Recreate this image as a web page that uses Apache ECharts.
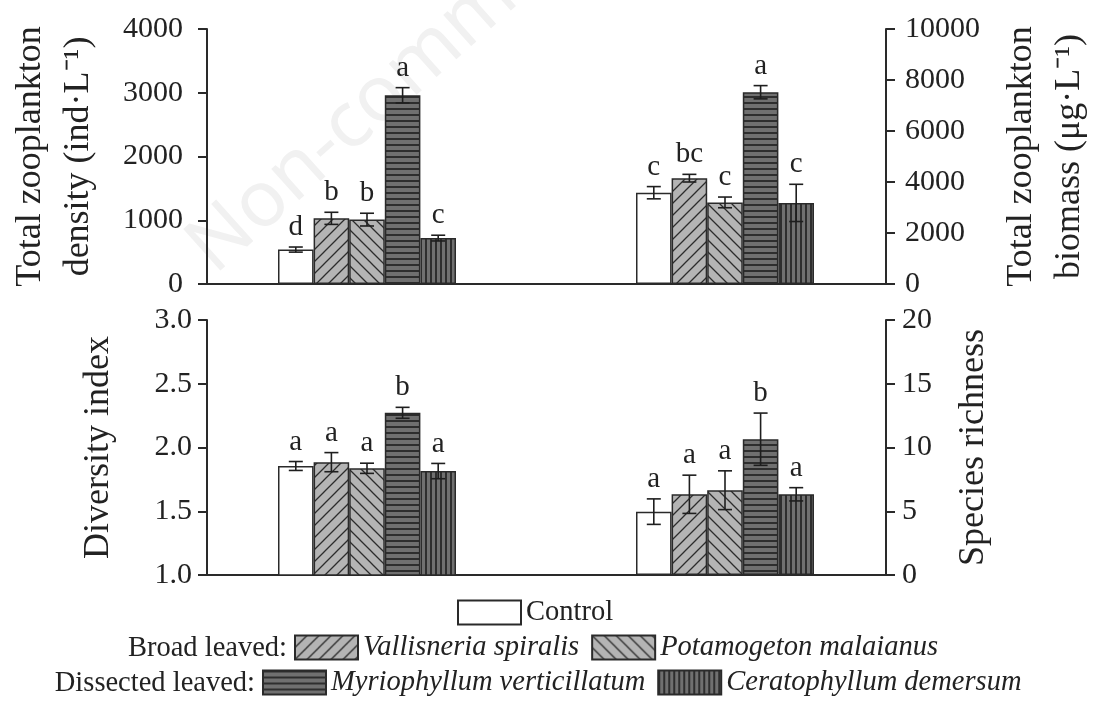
<!DOCTYPE html>
<html>
<head>
<meta charset="utf-8">
<script src="https://cdn.jsdelivr.net/npm/echarts@6/dist/echarts.min.js"></script>
<style>
  html, body { margin: 0; padding: 0; background: #ffffff; }
  #chart { width: 1094px; height: 704px; }
</style>
</head>
<body>
<div id="chart"></div>
<script>
// ---- data -------------------------------------------------------------
const treatments = [
  'Control',
  'Vallisneria spiralis',
  'Potamogeton malaianus',
  'Myriophyllum verticillatum',
  'Ceratophyllum demersum'
];

// Total zooplankton density (ind·L-1), mean and SE
const densityMean = [540, 1030, 1010, 2960, 720];
const densityErr = [40, 95, 100, 120, 45];
const densityLetters = ['d', 'b', 'b', 'a', 'c'];

// Total zooplankton biomass (μg·L-1), mean and SE
const biomassMean = [3580, 4150, 3200, 7520, 3180];
const biomassErr = [240, 150, 210, 260, 730];
const biomassLetters = ['c', 'bc', 'c', 'a', 'c'];

// Diversity index, mean and SE
const diversityMean = [1.855, 1.885, 1.837, 2.272, 1.815];
const diversityErr = [0.035, 0.075, 0.040, 0.043, 0.060];
const diversityLetters = ['a', 'a', 'a', 'b', 'a'];

// Species richness, mean and SE
const richnessMean = [4.97, 6.33, 6.65, 10.65, 6.33];
const richnessErr = [1.00, 1.50, 1.52, 2.05, 0.52];
const richnessLetters = ['a', 'a', 'a', 'b', 'a'];

// axis ranges
const densityRange = { min: 0, max: 4000, interval: 1000 };
const biomassRange = { min: 0, max: 10000, interval: 2000 };
const diversityRange = { min: 1.0, max: 3.0, interval: 0.5 };
const richnessRange = { min: 0, max: 20, interval: 5 };

const groupNames = ['left group', 'right group'];

// ---- styling ----------------------------------------------------------
const FONT = '"Liberation Serif", "Times New Roman", serif';
const INK = '#222222';
const BAR_W = 35.6;

function makeTile(w, h, bg, draw) {
  const c = document.createElement('canvas');
  c.width = w; c.height = h;
  const g = c.getContext('2d');
  g.fillStyle = bg;
  g.fillRect(0, 0, w, h);
  draw(g, w, h);
  return c;
}
function diagonal(up) {
  return makeTile(12, 12, '#b4b4b4', (g, w, h) => {
    g.strokeStyle = '#2c2c2c';
    g.lineWidth = 1.3;
    g.beginPath();
    if (up) {
      g.moveTo(0, h); g.lineTo(w, 0);
      g.moveTo(-2, 2); g.lineTo(2, -2);
      g.moveTo(w - 2, h + 2); g.lineTo(w + 2, h - 2);
    } else {
      g.moveTo(0, 0); g.lineTo(w, h);
      g.moveTo(-2, h - 2); g.lineTo(2, h + 2);
      g.moveTo(w - 2, -2); g.lineTo(w + 2, 2);
    }
    g.stroke();
  });
}
const fills = [
  '#ffffff',
  { image: diagonal(true), repeat: 'repeat' },
  { image: diagonal(false), repeat: 'repeat' },
  { image: makeTile(6, 6, '#707070', (g, w) => { g.fillStyle = '#2e2e2e'; g.fillRect(0, 0, w, 2); }), repeat: 'repeat' },
  { image: makeTile(5, 5, '#707070', (g, w, h) => { g.fillStyle = '#2e2e2e'; g.fillRect(0, 0, 2, h); }), repeat: 'repeat' }
];

// ---- layout helpers -----------------------------------------------------
const panels = [
  { top: 29, height: 255 },
  { top: 320, height: 255 }
];

const grids = [];
const xAxes = [];
const yAxes = [];
const series = [];

function axisLineStyle() {
  return { show: true, lineStyle: { color: '#2a2a2a', width: 2 } };
}
function visibleY(m, position) {
  return Object.assign({}, m.range, {
    type: 'value',
    position: position,
    name: m.name,
    nameLocation: 'middle',
    nameRotate: 90,
    nameGap: m.nameGap,
    nameTextStyle: { fontFamily: FONT, fontSize: 36, color: INK, lineHeight: 48 },
    axisLine: axisLineStyle(),
    axisTick: { show: true, inside: false, length: 9, lineStyle: { color: '#2a2a2a', width: 2 } },
    axisLabel: {
      fontFamily: FONT, fontSize: 30, color: INK, margin: m.labelMargin,
      formatter: m.fmt || (v => String(v))
    },
    splitLine: { show: false }
  });
}
function hiddenY(range) {
  return Object.assign({}, range, { type: 'value', show: false, splitLine: { show: false } });
}

function addPanel(p, left, right) {
  // frame grid carrying the visible axes
  const gFrame = grids.length;
  grids.push({ left: 207, width: 679, top: p.top, height: p.height, outerBoundsMode: 'none', containLabel: false });
  // bar grid, slightly wider so the two groups sit where they belong
  const gBars = grids.length;
  grids.push({ left: 188, width: 716, top: p.top, height: p.height, outerBoundsMode: 'none', containLabel: false });

  xAxes.push({
    gridIndex: gFrame, type: 'value', min: 0, max: 1,
    axisLine: axisLineStyle(), axisTick: { show: false }, axisLabel: { show: false },
    splitLine: { show: false }
  });
  yAxes.push(Object.assign(visibleY(left, 'left'), { gridIndex: gFrame }));
  yAxes.push(Object.assign(visibleY(right, 'right'), { gridIndex: gFrame }));

  [left, right].forEach((m, side) => {
    const xi = xAxes.length;
    xAxes.push({ gridIndex: gBars, type: 'category', data: groupNames, show: false });
    const yi = yAxes.length;
    yAxes.push(Object.assign(hiddenY(m.range), { gridIndex: gBars }));

    treatments.forEach((t, i) => {
      const data = side === 0 ? [m.mean[i], '-'] : ['-', m.mean[i]];
      series.push({
        type: 'bar', name: t, xAxisIndex: xi, yAxisIndex: yi,
        barWidth: BAR_W, barGap: '0%', data: data,
        itemStyle: { color: fills[i], borderColor: '#2a2a2a', borderWidth: 1.5 },
        emphasis: { disabled: true }, z: 2
      });
    });

    const letters = m.letters;
    series.push({
      type: 'custom', xAxisIndex: xi, yAxisIndex: yi, silent: true, z: 5,
      clip: false,
      data: m.mean.map((v, i) => [side, v, m.err[i], i]),
      renderItem: (params, api) => {
        const cat = api.value(0), v = api.value(1), e = api.value(2), i = api.value(3);
        const c = api.coord([cat, v]);
        const x = c[0] + (i - 2) * BAR_W;
        const yt = api.coord([cat, v + e])[1];
        const yb = api.coord([cat, v - e])[1];
        const ls = { stroke: '#1e1e1e', lineWidth: 1.6 };
        return {
          type: 'group',
          children: [
            { type: 'line', shape: { x1: x, y1: yt, x2: x, y2: yb }, style: ls },
            { type: 'line', shape: { x1: x - 7, y1: yt, x2: x + 7, y2: yt }, style: ls },
            { type: 'line', shape: { x1: x - 7, y1: yb, x2: x + 7, y2: yb }, style: ls },
            {
              type: 'text', x: x, y: yt - 5,
              style: {
                text: letters[i], fill: INK, fontFamily: FONT, fontSize: 29,
                align: 'center', verticalAlign: 'bottom'
              }
            }
          ]
        };
      }
    });
  });
}

addPanel(panels[0],
  { range: densityRange, mean: densityMean, err: densityErr, letters: densityLetters,
    name: 'Total zooplankton\ndensity (ind·L\u207B\u00B9)', nameGap: 104, labelMargin: 24 },
  { range: biomassRange, mean: biomassMean, err: biomassErr, letters: biomassLetters,
    name: 'Total zooplankton\nbiomass (μg·L\u207B\u00B9)', nameGap: 112, labelMargin: 19 }
);
addPanel(panels[1],
  { range: diversityRange, mean: diversityMean, err: diversityErr, letters: diversityLetters,
    name: 'Diversity index', nameGap: 84, labelMargin: 15, fmt: v => v.toFixed(1) },
  { range: richnessRange, mean: richnessMean, err: richnessErr, letters: richnessLetters,
    name: 'Species richness', nameGap: 64, labelMargin: 16 }
);

const legendText = { fontFamily: FONT, fontSize: 28.5, color: INK };
const legendBase = {
  orient: 'horizontal', icon: 'rect', itemWidth: 63, itemHeight: 24, itemGap: 12,
  selectedMode: false, padding: 0
};

const option = {
  animation: false,
  backgroundColor: '#ffffff',
  grid: grids,
  xAxis: xAxes,
  yAxis: yAxes,
  legend: [
    Object.assign({}, legendBase, { left: 457, top: 598, data: [treatments[0]], textStyle: legendText }),
    Object.assign({}, legendBase, { left: 294, top: 633, data: [treatments[1], treatments[2]],
      textStyle: Object.assign({ fontStyle: 'italic' }, legendText) }),
    Object.assign({}, legendBase, { left: 262, top: 668, data: [treatments[3], treatments[4]],
      textStyle: Object.assign({ fontStyle: 'italic' }, legendText) })
  ],
  graphic: [
    {
      type: 'text', x: 226, y: 288, rotation: 0.73, z: -1, silent: true,
      style: {
        text: 'Non-commercial', fill: '#f1f1f1', fontFamily: 'Noto Sans, sans-serif',
        fontSize: 78, align: 'left', verticalAlign: 'bottom'
      }
    },
    {
      type: 'text', x: 287, y: 649, silent: true,
      style: { text: 'Broad leaved:', fill: INK, fontFamily: FONT, fontSize: 28.5, align: 'right', verticalAlign: 'middle' }
    },
    {
      type: 'text', x: 255, y: 684, silent: true,
      style: { text: 'Dissected leaved:', fill: INK, fontFamily: FONT, fontSize: 28.5, align: 'right', verticalAlign: 'middle' }
    }
  ],
  series: series
};

const chart = echarts.init(document.getElementById('chart'), null, { renderer: 'canvas' });
chart.setOption(option);
</script>
</body>
</html>
